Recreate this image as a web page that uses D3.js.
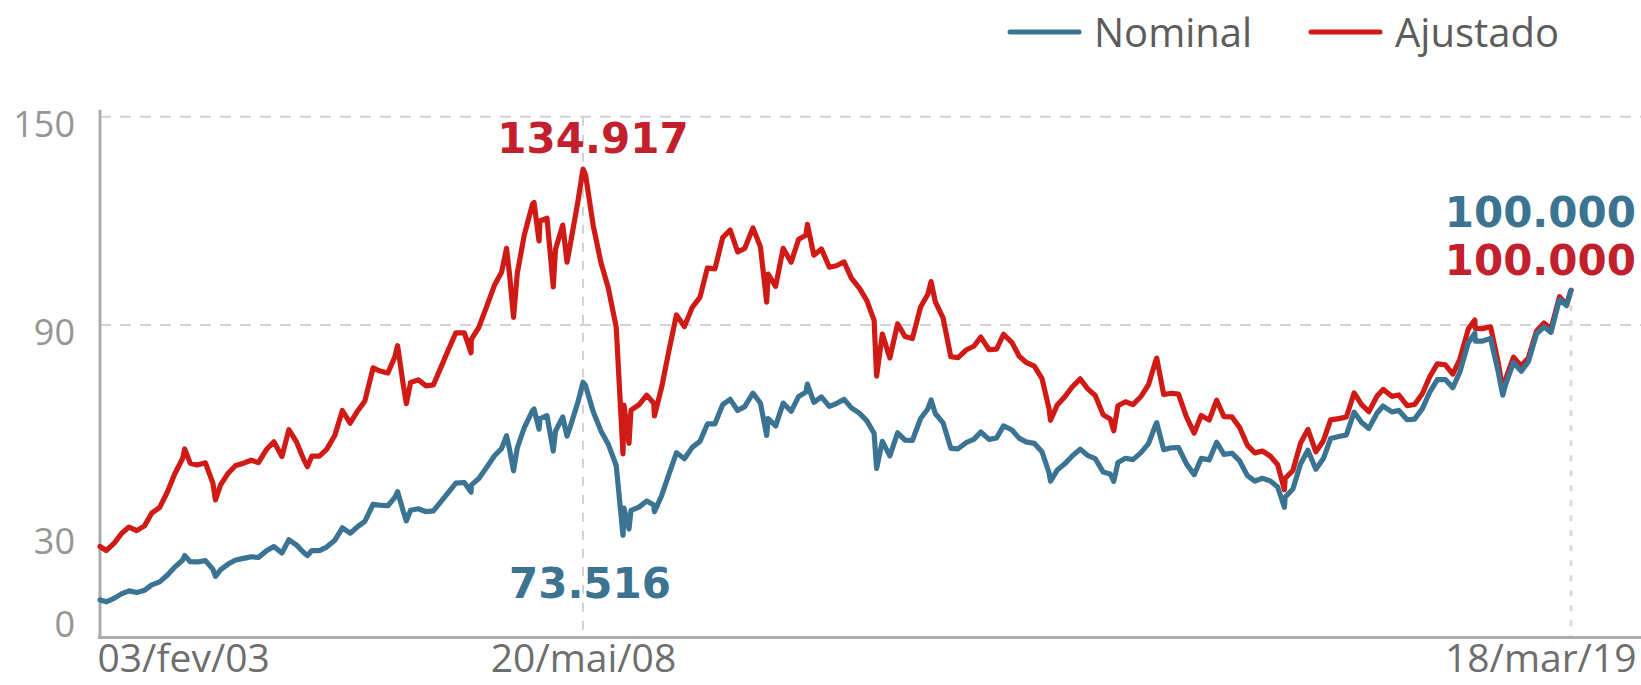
<!DOCTYPE html>
<html><head><meta charset="utf-8">
<script src="https://cdn.jsdelivr.net/npm/d3@7/dist/d3.min.js"></script>
<style>body{margin:0;background:#fff}svg{display:block}</style>
</head><body>
<svg id="c" width="1641" height="685"></svg>
<script>
// ---------------- DATA ----------------
const seriesNames = ["Nominal", "Ajustado"];
const dates = [
"2003-02-03","2003-02-28","2003-03-31","2003-04-30","2003-05-30","2003-06-30","2003-07-31","2003-08-29","2003-09-30","2003-10-31","2003-11-28","2003-12-30",
"2004-01-08","2004-01-30","2004-02-27","2004-03-31","2004-04-30","2004-05-10","2004-05-31","2004-06-30","2004-07-30","2004-08-31","2004-09-30","2004-10-29","2004-11-30","2004-12-30",
"2005-01-31","2005-02-28","2005-03-31","2005-04-29","2005-05-13","2005-05-31","2005-06-30","2005-07-29","2005-08-31","2005-09-30","2005-10-31","2005-11-30","2005-12-29",
"2006-01-31","2006-02-24","2006-03-31","2006-04-28","2006-05-09","2006-05-31","2006-06-13","2006-06-30","2006-07-31","2006-08-31","2006-09-29","2006-10-31","2006-11-30","2006-12-28",
"2007-01-31","2007-02-27","2007-02-28","2007-03-30","2007-04-30","2007-05-31","2007-06-29","2007-07-19","2007-07-31","2007-08-16","2007-08-31","2007-09-28","2007-10-31","2007-11-06","2007-11-26","2007-11-30","2007-12-28",
"2008-01-22","2008-01-31","2008-02-29","2008-03-17","2008-03-31","2008-04-30","2008-05-20","2008-05-30","2008-06-30","2008-07-31","2008-08-29","2008-09-30","2008-10-27","2008-10-31","2008-11-20","2008-11-28","2008-12-30",
"2009-01-30","2009-02-27","2009-03-02","2009-03-31","2009-04-30","2009-05-29","2009-06-30","2009-07-31","2009-08-31","2009-09-30","2009-10-30","2009-11-30","2009-12-30",
"2010-01-29","2010-02-26","2010-03-31","2010-04-30","2010-05-25","2010-05-31","2010-06-30","2010-07-30","2010-08-31","2010-09-30","2010-10-29","2010-11-04","2010-11-30","2010-12-30",
"2011-01-31","2011-02-28","2011-03-31","2011-04-29","2011-05-31","2011-06-30","2011-07-29","2011-08-08","2011-08-31","2011-09-30","2011-10-31","2011-11-30","2011-12-29",
"2012-01-31","2012-02-29","2012-03-13","2012-03-30","2012-04-30","2012-05-31","2012-06-29","2012-07-31","2012-08-31","2012-09-28","2012-10-31","2012-11-30","2012-12-28",
"2013-01-31","2013-02-28","2013-03-28","2013-04-30","2013-05-31","2013-06-28","2013-07-04","2013-07-31","2013-08-30","2013-09-30","2013-10-31","2013-11-29","2013-12-30",
"2014-01-31","2014-02-28","2014-03-14","2014-03-31","2014-04-30","2014-05-30","2014-06-30","2014-07-31","2014-08-29","2014-09-02","2014-09-30","2014-10-31","2014-11-28","2014-12-30",
"2015-01-30","2015-02-27","2015-03-31","2015-04-30","2015-05-29","2015-06-30","2015-07-31","2015-08-31","2015-09-30","2015-10-30","2015-11-30","2015-12-30",
"2016-01-26","2016-01-29","2016-02-29","2016-03-31","2016-04-29","2016-05-31","2016-06-30","2016-07-29","2016-08-31","2016-09-30","2016-10-31","2016-11-30","2016-12-29",
"2017-01-31","2017-02-24","2017-03-31","2017-04-28","2017-05-31","2017-06-30","2017-07-31","2017-08-31","2017-09-29","2017-10-31","2017-11-30","2017-12-28",
"2018-01-31","2018-02-26","2018-02-28","2018-03-29","2018-04-30","2018-05-30","2018-06-18","2018-06-29","2018-07-31","2018-08-31","2018-09-28","2018-10-31","2018-11-30","2018-12-28",
"2019-01-31","2019-02-28","2019-03-18"
];
const nominal = [
10.8,10.28,11.27,12.56,13.42,12.97,13.58,15.17,16.01,17.98,20.18,22.24,
23.6,21.85,21.76,22.14,19.61,17.6,19.54,21.15,22.34,22.80,23.26,23.05,24.95,26.20,
24.35,28.14,26.61,24.41,23.6,25.06,25.05,26.04,28.04,31.58,30.04,31.92,33.46,
38.38,38.11,37.95,40.37,42.0,36.53,33.6,36.63,37.08,36.23,36.45,39.26,41.93,44.47,
44.64,41.9,43.89,45.80,48.96,52.27,54.39,58.1,54.18,48.0,54.64,60.47,65.32,65.8,60.0,63.01,63.89,
53.7,59.49,63.49,58.0,60.97,67.87,73.516,72.59,65.02,59.51,55.68,49.54,29.44,37.26,31.25,36.60,37.55,
39.30,38.18,36.2,40.93,47.29,53.20,51.47,54.77,56.49,61.52,61.55,67.04,68.59,
65.40,66.50,70.37,67.53,58.2,63.05,60.94,67.52,65.15,69.43,70.67,72.99,67.71,69.30,
66.57,67.38,68.59,66.13,64.62,62.40,58.82,48.67,56.50,52.32,58.96,56.87,56.75,
63.07,65.81,68.39,64.51,61.82,54.49,54.35,56.10,57.06,59.18,57.07,57.47,60.95,
59.76,57.42,56.35,55.91,53.51,47.46,45.04,48.23,50.01,52.34,54.26,52.48,51.51,
47.64,47.09,44.97,50.41,51.63,51.24,53.17,55.83,61.29,61.9,54.12,54.63,54.72,50.01,
46.91,51.58,51.15,56.23,52.76,53.08,50.86,46.63,45.06,45.87,45.12,43.35,
37.50,40.41,42.79,50.06,53.91,48.47,51.53,57.31,57.90,58.37,64.92,61.91,60.23,
64.67,66.66,64.98,65.40,62.71,62.90,65.92,70.84,74.29,74.31,71.97,76.40,
84.91,87.65,85.35,85.37,86.12,76.75,69.8,72.76,79.22,76.68,79.34,87.42,89.50,87.89,
97.39,95.58,100.0
];
const ajustado = [
26.2,25.05,27.13,29.94,31.81,30.78,32.16,35.80,37.50,41.98,46.96,51.49,
54.3,50.21,49.70,50.32,44.42,39.65,44.02,47.31,49.53,50.21,51.06,50.36,54.14,56.38,
52.11,59.85,56.25,51.16,49.2,52.28,52.25,54.19,58.24,65.37,61.73,65.24,68.12,
77.68,76.83,76.17,80.86,84.04,73.10,67.37,73.44,74.20,72.46,72.75,78.09,83.15,87.78,
87.72,82.0,85.89,89.31,95.23,101.35,105.19,112.1,104.51,92.2,104.91,115.92,124.83,125.3,114.2,119.97,120.75,
100.96,111.84,118.79,108.1,113.53,125.70,134.917,133.35,118.60,107.95,100.73,89.37,52.87,66.92,55.94,65.51,67.03,
69.80,67.46,63.8,72.16,82.99,92.89,89.56,95.08,97.95,106.43,106.17,115.18,117.36,
111.05,112.05,117.94,112.57,96.6,104.66,101.16,112.08,108.08,114.70,115.83,119.0,110.10,111.92,
106.65,107.07,108.17,103.49,100.61,97.03,91.35,75.29,87.41,80.52,90.33,86.67,86.09,
95.17,98.85,102.52,96.70,92.05,80.86,80.60,82.80,83.88,86.52,82.92,83.04,87.34,
84.92,81.08,79.23,78.16,74.54,65.92,62.56,66.99,69.31,72.28,74.50,71.69,69.69,
64.12,62.91,59.54,66.74,67.89,67.07,69.33,72.80,79.68,80.47,69.98,70.36,70.10,63.56,
58.87,63.96,62.61,68.32,63.63,63.54,60.47,55.35,53.17,53.71,52.29,49.77,
42.53,45.82,48.10,56.02,59.95,53.46,56.68,62.70,63.05,63.51,70.44,67.05,65.05,
69.58,71.46,69.46,69.85,66.79,67.11,70.20,75.30,78.82,78.55,75.86,80.14,
88.82,91.42,89.02,88.96,89.48,79.44,71.3,74.36,80.72,78.21,80.53,88.29,90.57,88.86,
98.17,95.87,100.0
];
const yTickValues = [0, 30, 90, 150];
const gridValues = [90, 150];
const xTickDates = ["2003-02-03", "2008-05-20", "2019-03-18"];
const xTickLabels = ["03/fev/03", "20/mai/08", "18/mar/19"];
const peakDate = "2008-05-20";
const peakLabels = ["134.917", "73.516"];
const endLabels = ["100.000", "100.000"];

// ---------------- STYLE ----------------
const colors = { Nominal: "#3b7492", Ajustado: "#cf1a16" };
const labelColors = { Nominal: "#3b7391", Ajustado: "#c2202c" };
const FONT = "'Open Sans', 'Noto Sans', sans-serif";
const BOLD = "'DejaVu Sans', 'Open Sans', sans-serif";

const parse = d3.timeParse("%Y-%m-%d");
const D = dates.map(parse);
const rows = D.map((d, i) => ({ date: d, Nominal: nominal[i], Ajustado: ajustado[i] }));

const svg = d3.select("#c");
const x = d3.scaleTime().domain(d3.extent(D)).range([100, 1571]);
const y = d3.scaleLinear().domain([0, 150]).range([637.5, 116.7]);

// grid lines
svg.append("g").selectAll("line").data(gridValues).join("line")
  .attr("x1", x.range()[0]).attr("x2", 1641)
  .attr("y1", d => y(d)).attr("y2", d => y(d))
  .attr("stroke", "#d2d2d2").attr("stroke-width", 2).attr("stroke-dasharray", "11,9");

// vertical reference lines
const pd = parse(peakDate);
svg.append("line").attr("x1", x(pd)).attr("x2", x(pd))
  .attr("y1", y(150)).attr("y2", y(0))
  .attr("stroke", "#d2d2d2").attr("stroke-width", 2).attr("stroke-dasharray", "9,9");
const last = rows[rows.length - 1];
svg.append("line").attr("x1", x(last.date)).attr("x2", x(last.date))
  .attr("y1", y(last.Nominal)).attr("y2", y(0))
  .attr("stroke", "#dadada").attr("stroke-width", 3).attr("stroke-dasharray", "6,9");

// left axis
const ya = svg.append("g").attr("transform", `translate(${x.range()[0]},0)`)
  .call(d3.axisLeft(y).tickValues(yTickValues).tickSize(0).tickPadding(25));
ya.select(".domain").remove();
ya.selectAll("text").attr("font-family", FONT).attr("font-size", 36).attr("fill", "#959595")
  .attr("dy", d => d === 0 ? "-0.02em" : "0.55em");
svg.append("line").attr("x1", x.range()[0]).attr("x2", x.range()[0])
  .attr("y1", y(150) - 7).attr("y2", y(0))
  .attr("stroke", "#ababab").attr("stroke-width", 3);

// bottom axis
const xa = svg.append("g").attr("transform", `translate(0,${y(0)})`)
  .call(d3.axisBottom(x).tickValues(xTickDates.map(parse)).tickSize(0).tickPadding(0)
    .tickFormat((d, i) => xTickLabels[i]));
xa.select(".domain").remove();
xa.selectAll("text").attr("font-family", FONT).attr("font-size", 39).attr("fill", "#6e6e6e")
  .attr("y", 34).attr("dy", 0)
  .attr("text-anchor", (d, i) => i === 0 ? "start" : (i === xTickDates.length - 1 ? "end" : "middle"))
  .attr("dx", (d, i) => i === 0 ? -3 : (i === xTickDates.length - 1 ? 65 : 0));
svg.append("line").attr("x1", x.range()[0] - 2).attr("x2", 1641)
  .attr("y1", y(0)).attr("y2", y(0))
  .attr("stroke", "#ababab").attr("stroke-width", 3);

// lines (adjusted below, nominal on top)
["Ajustado", "Nominal"].forEach(k => {
  svg.append("path").datum(rows)
    .attr("fill", "none").attr("stroke", colors[k]).attr("stroke-width", 5.2)
    .attr("stroke-linejoin", "round").attr("stroke-linecap", "round")
    .attr("d", d3.line().x(d => x(d.date)).y(d => y(d[k])));
});

// annotations
const pr = rows.find(r => +r.date === +pd);
svg.append("text").text(peakLabels[0]).attr("x", x(pd) + 10).attr("y", y(pr.Ajustado) - 16)
  .attr("text-anchor", "middle").attr("font-family", BOLD).attr("font-weight", 700)
  .attr("font-size", 42).attr("fill", labelColors.Ajustado);
svg.append("text").text(peakLabels[1]).attr("x", x(pd) + 7).attr("y", y(0) - 40)
  .attr("text-anchor", "middle").attr("font-family", BOLD).attr("font-weight", 700)
  .attr("font-size", 42).attr("fill", labelColors.Nominal);
svg.append("text").text(endLabels[0]).attr("x", 1636).attr("y", y(last.Nominal) - 63)
  .attr("text-anchor", "end").attr("font-family", BOLD).attr("font-weight", 700)
  .attr("font-size", 42).attr("fill", labelColors.Nominal);
svg.append("text").text(endLabels[1]).attr("x", 1636).attr("y", y(last.Ajustado) - 15)
  .attr("text-anchor", "end").attr("font-family", BOLD).attr("font-weight", 700)
  .attr("font-size", 42).attr("fill", labelColors.Ajustado);

// legend
const legend = svg.append("g");
const legX = [1010, 1311];
seriesNames.forEach((k, i) => {
  legend.append("line").attr("x1", legX[i]).attr("x2", legX[i] + 69)
    .attr("y1", 32).attr("y2", 32).attr("stroke", colors[k]).attr("stroke-width", 5)
    .attr("stroke-linecap", "round");
  legend.append("text").text(k).attr("x", legX[i] + 84).attr("y", 47)
    .attr("font-family", FONT).attr("font-size", 40).attr("fill", "#5c5c5c");
});
</script>
</body></html>
